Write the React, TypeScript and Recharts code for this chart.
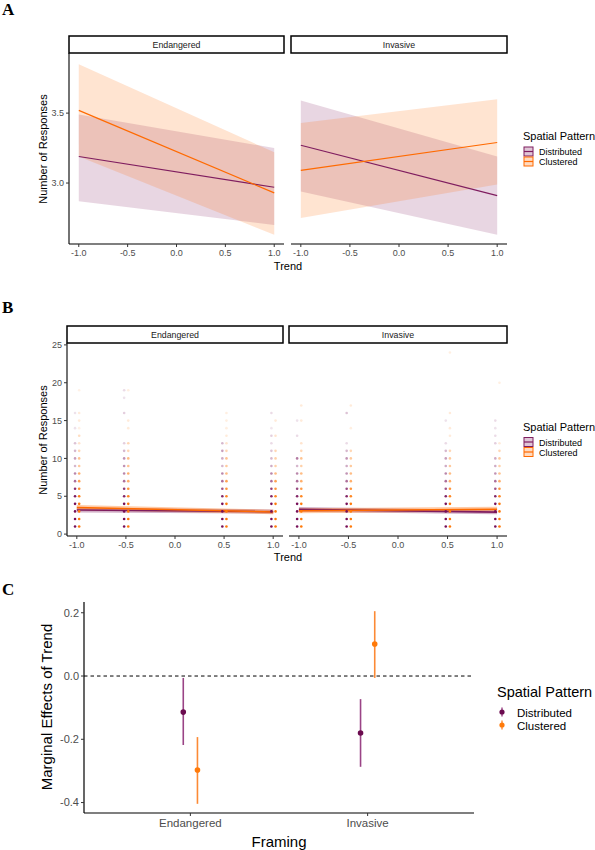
import React from "react";
import { ComposedChart, Area, Line, Scatter, XAxis, YAxis, ErrorBar, ReferenceLine } from "recharts";

// ---- panel A / B : fitted lines, trend = -1 and 1 ----
const trendEnds = [-1, 1];
const trendTicks = [-1, -0.5, 0, 0.5, 1];

const endDistFit = [3.19, 2.97];
const endDistLo = [2.87, 2.7];
const endDistHi = [3.49, 3.25];
const endClusFit = [3.52, 2.93];
const endClusLo = [3.19, 2.63];
const endClusHi = [3.85, 3.22];

const invDistFit = [3.27, 2.91];
const invDistLo = [2.94, 2.63];
const invDistHi = [3.59, 3.19];
const invClusFit = [3.09, 3.29];
const invClusLo = [2.75, 2.99];
const invClusHi = [3.43, 3.6];

// ---- panel B : raw responses, [value, shade] per trend level ----
const obsTrend = [-1, -0.5, 0.5, 1];

const endDistObs = [
  [[1, 1], [2, 1], [3, 1], [4, 1], [5, 0.95], [6, 0.85], [7, 0.6], [8, 0.5], [9, 0.3], [10, 0.4], [11, 0.3], [12, 0.25], [14, 0.12], [16, 0.12]],
  [[1, 1], [2, 1], [3, 1], [4, 1], [5, 0.9], [6, 0.8], [7, 0.6], [8, 0.5], [9, 0.45], [10, 0.45], [11, 0.3], [12, 0.2], [16, 0.2], [18, 0.12], [19, 0.15]],
  [[1, 1], [2, 1], [3, 1], [4, 1], [5, 0.9], [6, 0.7], [7, 0.6], [8, 0.5], [9, 0.3], [10, 0.35], [11, 0.4], [12, 0.3]],
  [[1, 1], [2, 1], [3, 1], [4, 1], [5, 0.9], [6, 0.8], [7, 0.6], [8, 0.5], [9, 0.35], [10, 0.3], [11, 0.25], [12, 0.15], [13, 0.2], [14, 0.1], [16, 0.15]],
];
const endClusObs = [
  [[1, 1], [2, 1], [3, 1], [4, 1], [5, 0.95], [6, 0.85], [7, 0.7], [8, 0.6], [9, 0.4], [10, 0.45], [11, 0.3], [12, 0.2], [13, 0.25], [14, 0.1], [15, 0.15], [16, 0.15], [19, 0.1]],
  [[1, 1], [2, 1], [3, 1], [4, 1], [5, 0.9], [6, 0.8], [7, 0.6], [8, 0.6], [9, 0.45], [10, 0.5], [11, 0.3], [12, 0.3], [14, 0.15], [15, 0.15], [19, 0.12]],
  [[1, 1], [2, 1], [3, 1], [4, 1], [5, 0.9], [6, 0.8], [7, 0.7], [8, 0.5], [9, 0.4], [10, 0.45], [11, 0.3], [12, 0.2], [13, 0.15], [14, 0.12], [15, 0.12], [16, 0.12]],
  [[1, 1], [2, 1], [3, 1], [4, 1], [5, 0.9], [6, 0.8], [7, 0.7], [8, 0.5], [9, 0.35], [10, 0.35], [11, 0.3], [13, 0.2], [15, 0.15]],
];
const invDistObs = [
  [[1, 1], [2, 1], [3, 1], [4, 1], [5, 0.9], [6, 0.75], [7, 0.6], [8, 0.5], [9, 0.3], [10, 0.55], [13, 0.15], [15, 0.12]],
  [[1, 1], [2, 1], [3, 1], [4, 1], [5, 0.9], [6, 0.75], [7, 0.6], [8, 0.45], [9, 0.35], [10, 0.45], [11, 0.3], [12, 0.15], [16, 0.25]],
  [[1, 1], [2, 1], [3, 1], [4, 1], [5, 0.9], [6, 0.7], [7, 0.6], [8, 0.5], [9, 0.35], [10, 0.4], [11, 0.3], [12, 0.15], [15, 0.12]],
  [[1, 1], [2, 1], [3, 1], [4, 1], [5, 0.9], [6, 0.7], [7, 0.6], [8, 0.45], [9, 0.35], [10, 0.35], [12, 0.2], [13, 0.15], [14, 0.12], [15, 0.15]],
];
const invClusObs = [
  [[1, 1], [2, 1], [3, 1], [4, 1], [5, 0.9], [6, 0.75], [7, 0.6], [8, 0.5], [9, 0.35], [10, 0.45], [11, 0.3], [12, 0.2], [15, 0.15], [17, 0.15]],
  [[1, 1], [2, 1], [3, 1], [4, 1], [5, 0.9], [6, 0.8], [7, 0.6], [8, 0.5], [9, 0.4], [10, 0.4], [11, 0.3], [14, 0.12], [17, 0.15]],
  [[1, 1], [2, 1], [3, 1], [4, 1], [5, 0.9], [6, 0.8], [7, 0.6], [8, 0.5], [9, 0.4], [10, 0.4], [11, 0.3], [13, 0.15], [14, 0.15], [16, 0.15], [24, 0.12]],
  [[1, 1], [2, 1], [3, 1], [4, 1], [5, 0.9], [6, 0.8], [7, 0.6], [8, 0.45], [9, 0.35], [10, 0.4], [11, 0.3], [12, 0.15], [20, 0.12]],
];

// ---- panel C : marginal effects ----
const framing = ["Endangered", "Invasive"];
const meDist = [-0.114, -0.18];
const meDistLo = [-0.218, -0.287];
const meDistHi = [-0.006, -0.073];
const meClus = [-0.297, 0.101];
const meClusLo = [-0.404, -0.006];
const meClusHi = [-0.193, 0.205];

const FONT = "'Liberation Sans', Arial, Helvetica, sans-serif";
const SERIF = "'Liberation Serif', 'Times New Roman', serif";
const DIST = "#7f1d5f";
const CLUS = "#ff6a00";
const DIST_PT = "#760f58";
const CLUS_PT = "#ff7a0a";
const GREY = "#4d4d4d";

const fitRows = (dFit, dLo, dHi, cFit, cLo, cHi) =>
  trendEnds.map((x, i) => ({
    x,
    d: dFit[i],
    dBand: [dLo[i], dHi[i]],
    c: cFit[i],
    cBand: [cLo[i], cHi[i]],
  }));

const obsRows = (cols, shift) => {
  const out = [];
  obsTrend.forEach((t, j) => cols[j].forEach(([v, a]) => out.push({ x: t + shift, y: v, a })));
  return out;
};

const endFit = fitRows(endDistFit, endDistLo, endDistHi, endClusFit, endClusLo, endClusHi);
const invFit = fitRows(invDistFit, invDistLo, invDistHi, invClusFit, invClusLo, invClusHi);

const dot = (color) => (p) =>
  p.cx == null ? null : <circle cx={p.cx} cy={p.cy} r={1.3} fill={color} fillOpacity={p.payload.a} />;

const tickStyle = { fontSize: 9, fill: GREY, fontFamily: FONT };
const fmt1 = (v) => Number(v).toFixed(1);

function Facet({ left, top, width, height, margin, rows, showY, yDomain, yTicks, dist, clus, bandOpacity, lineWidth }) {
  return (
    <div style={{ position: "absolute", left, top }}>
      <ComposedChart width={width} height={height} margin={margin}>
        <XAxis
          type="number"
          dataKey="x"
          domain={[-1.1, 1.1]}
          ticks={trendTicks}
          tickFormatter={fmt1}
          allowDataOverflow
          height={20}
          tickSize={3}
          tickMargin={3}
          tick={tickStyle}
          axisLine={{ stroke: "#000", strokeWidth: 1.1 }}
          tickLine={{ stroke: "#333" }}
        />
        <YAxis
          type="number"
          domain={yDomain}
          ticks={yTicks}
          allowDataOverflow
          hide={!showY}
          width={showY ? margin.yw : 0}
          tickFormatter={(v) => (yTicks.length > 2 ? String(v) : fmt1(v))}
          tickSize={3}
          tickMargin={2}
          tick={tickStyle}
          axisLine={{ stroke: "#000", strokeWidth: 1.1 }}
          tickLine={{ stroke: "#333" }}
        />
        {dist && <Scatter data={dist} dataKey="y" shape={dot(DIST_PT)} isAnimationActive={false} />}
        {clus && <Scatter data={clus} dataKey="y" shape={dot(CLUS_PT)} isAnimationActive={false} />}
        <Area data={rows} dataKey="dBand" type="linear" stroke="none" fill={DIST} fillOpacity={bandOpacity} isAnimationActive={false} activeDot={false} />
        <Area data={rows} dataKey="cBand" type="linear" stroke="none" fill={CLUS} fillOpacity={bandOpacity} isAnimationActive={false} activeDot={false} />
        <Line data={rows} dataKey="d" type="linear" stroke={DIST} strokeWidth={lineWidth} dot={false} activeDot={false} isAnimationActive={false} />
        <Line data={rows} dataKey="c" type="linear" stroke={CLUS} strokeWidth={lineWidth} dot={false} activeDot={false} isAnimationActive={false} />
      </ComposedChart>
    </div>
  );
}

function Strip({ x, y, w, label }) {
  return (
    <g>
      <rect x={x} y={y} width={w} height={17} fill="#fff" stroke="#000" strokeWidth={1.5} />
      <text x={x + w / 2} y={y + 11.8} textAnchor="middle" fontSize={8.8} fill="#1a1a1a" fontFamily={FONT}>
        {label}
      </text>
    </g>
  );
}

function BoxLegend({ x, y }) {
  return (
    <g fontFamily={FONT}>
      <text x={x} y={y} fontSize={11} fill="#000">Spatial Pattern</text>
      {[
        ["Distributed", DIST],
        ["Clustered", CLUS],
      ].map(([name, c], i) => (
        <g key={name}>
          <rect x={x + 1} y={y + 7 + i * 10} width={9} height={9} fill={c} fillOpacity={0.25} stroke={c} strokeWidth={1} />
          <line x1={x + 1} x2={x + 10} y1={y + 11.5 + i * 10} y2={y + 11.5 + i * 10} stroke={c} strokeWidth={1.2} />
          <text x={x + 16} y={y + 15 + i * 10} fontSize={9} fill="#000">{name}</text>
        </g>
      ))}
    </g>
  );
}

const meRows = (fit, lo, hi, shift) =>
  framing.map((f, i) => ({ x: i + 1 + shift, y: fit[i], err: [fit[i] - lo[i], hi[i] - fit[i]] }));

const cDist = meRows(meDist, meDistLo, meDistHi, -0.04);
const cClus = meRows(meClus, meClusLo, meClusHi, 0.04);

const bigDot = (color) => (p) => (p.cx == null ? null : <circle cx={p.cx} cy={p.cy} r={2.8} fill={color} />);

export default function App() {
  const bEndDist = obsRows(endDistObs, -0.018);
  const bEndClus = obsRows(endClusObs, 0.024);
  const bInvDist = obsRows(invDistObs, -0.018);
  const bInvClus = obsRows(invClusObs, 0.024);
  const aDomain = [2.564, 3.93];
  const bDomain = [-0.25, 25.25];

  return (
    <div style={{ position: "absolute", left: 0, top: 0, width: 595, height: 850, background: "#fff", fontFamily: FONT }}>
      {/* panel A */}
      <Facet left={0} top={45} width={290} height={219} margin={{ top: 8, right: 6, bottom: 0, left: 0, yw: 69 }}
        rows={endFit} showY yDomain={aDomain} yTicks={[3.0, 3.5]} bandOpacity={0.18} lineWidth={1.2} />
      <Facet left={285} top={45} width={228} height={219} margin={{ top: 8, right: 6, bottom: 0, left: 6 }}
        rows={invFit} showY={false} yDomain={aDomain} yTicks={[3.0, 3.5]} bandOpacity={0.18} lineWidth={1.2} />

      {/* panel B */}
      <Facet left={0} top={335} width={289} height={221} margin={{ top: 8, right: 6, bottom: 0, left: 0, yw: 67 }}
        rows={endFit} showY yDomain={bDomain} yTicks={[0, 5, 10, 15, 20, 25]} dist={bEndDist} clus={bEndClus} bandOpacity={0.35} lineWidth={1.6} />
      <Facet left={283} top={335} width={230} height={221} margin={{ top: 8, right: 6, bottom: 0, left: 6 }}
        rows={invFit} showY={false} yDomain={bDomain} yTicks={[0, 5, 10, 15, 20, 25]} dist={bInvDist} clus={bInvClus} bandOpacity={0.35} lineWidth={1.6} />

      {/* panel C */}
      <div style={{ position: "absolute", left: 0, top: 594 }}>
        <ComposedChart width={480} height={239} margin={{ top: 8, right: 6, bottom: 0, left: 0 }}>
          <XAxis
            type="number"
            dataKey="x"
            domain={[0.4, 2.6]}
            ticks={[1, 2]}
            tickFormatter={(v) => framing[v - 1]}
            allowDataOverflow
            height={20}
            tickSize={3}
            tickMargin={3}
            tick={{ fontSize: 11.5, fill: GREY, fontFamily: FONT }}
            axisLine={{ stroke: "#000", strokeWidth: 1.2 }}
            tickLine={{ stroke: "#333" }}
          />
          <YAxis
            type="number"
            domain={[-0.433, 0.234]}
            ticks={[-0.4, -0.2, 0, 0.2]}
            tickFormatter={fmt1}
            allowDataOverflow
            width={84}
            tickSize={3}
            tickMargin={2}
            tick={{ fontSize: 11, fill: GREY, fontFamily: FONT }}
            axisLine={{ stroke: "#000", strokeWidth: 1.2 }}
            tickLine={{ stroke: "#333" }}
          />
          <ReferenceLine y={0} stroke="#000" strokeDasharray="3.5 3" strokeWidth={1} />
          <Scatter data={cDist} dataKey="y" shape={bigDot("#6b0b4f")} isAnimationActive={false}>
            <ErrorBar dataKey="err" direction="y" width={0} stroke="#9a4486" strokeWidth={1.6} />
          </Scatter>
          <Scatter data={cClus} dataKey="y" shape={bigDot(CLUS_PT)} isAnimationActive={false}>
            <ErrorBar dataKey="err" direction="y" width={0} stroke="#fc8a35" strokeWidth={1.6} />
          </Scatter>
        </ComposedChart>
      </div>

      {/* labels, strips, legends */}
      <svg width={595} height={850} style={{ position: "absolute", left: 0, top: 0, pointerEvents: "none" }}>
        <g fontFamily={SERIF} fontWeight="bold" fontSize={17} fill="#000">
          <text x={2} y={15}>A</text>
          <text x={2} y={313}>B</text>
          <text x={2} y={595}>C</text>
        </g>

        <Strip x={69} y={36} w={215} label="Endangered" />
        <Strip x={291} y={36} w={216} label="Invasive" />
        <Strip x={67} y={326} w={216} label="Endangered" />
        <Strip x={289} y={326} w={218} label="Invasive" />

        <g fontFamily={FONT} fontSize={11} fill="#000">
          <text x={288} y={270} textAnchor="middle">Trend</text>
          <text transform="translate(46.5,149) rotate(-90)" textAnchor="middle">Number of Responses</text>
          <text x={288} y={561} textAnchor="middle">Trend</text>
          <text transform="translate(46.5,440) rotate(-90)" textAnchor="middle">Number of Responses</text>
        </g>

        <BoxLegend x={523} y={140} />
        <BoxLegend x={523} y={430.5} />

        <g fontFamily={FONT} fill="#000">
          <text transform="translate(51.5,707) rotate(-90)" textAnchor="middle" fontSize={15}>Marginal Effects of Trend</text>
          <text x={279} y={847} textAnchor="middle" fontSize={15}>Framing</text>
          <text x={497} y={697} fontSize={14.5}>Spatial Pattern</text>
          {[
            ["Distributed", "#6b0b4f", "#9a4486"],
            ["Clustered", CLUS_PT, "#fc8a35"],
          ].map(([name, c, bar], i) => (
            <g key={name}>
              <line x1={502} x2={502} y1={707.5 + i * 13} y2={716.5 + i * 13} stroke={bar} strokeWidth={1.4} />
              <circle cx={502} cy={712 + i * 13} r={2.6} fill={c} />
              <text x={517} y={716.5 + i * 13} fontSize={11.5}>{name}</text>
            </g>
          ))}
        </g>
      </svg>
    </div>
  );
}
